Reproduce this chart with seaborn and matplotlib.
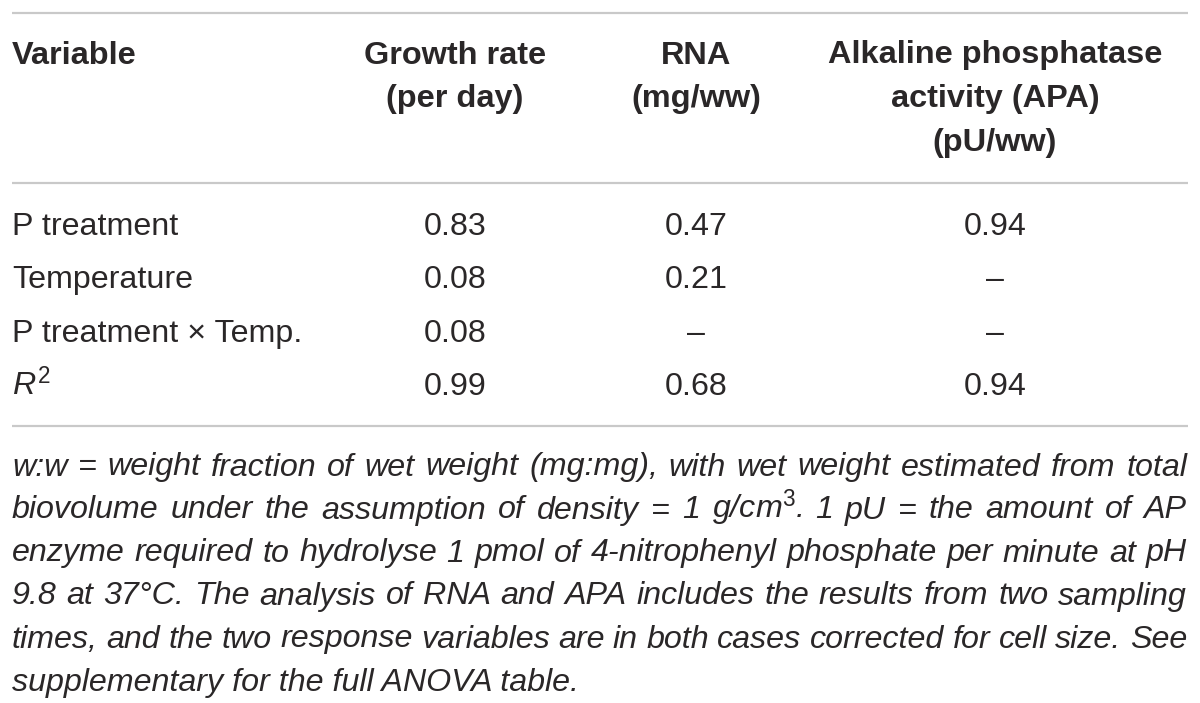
import matplotlib
matplotlib.use("Agg")
import matplotlib.pyplot as plt
import seaborn as sns

# ---- data ----
header_variable = "Variable"
columns = ["Growth rate\n(per day)", "RNA\n(mg/ww)", "Alkaline phosphatase\nactivity (APA)\n(pU/ww)"]
row_labels = ["P treatment", "Temperature", "P treatment \u00d7 Temp.", "$R^2$"]
growth_rate = ["0.83", "0.08", "0.08", "0.99"]
rna = ["0.47", "0.21", "\u2013", "0.68"]
apa = ["0.94", "\u2013", "\u2013", "0.94"]
footnote_lines = [
    "w:w = weight fraction of wet weight (mg:mg), with wet weight estimated from total",
    "biovolume under the assumption of density = 1 g/cm$^{3}$. 1 pU = the amount of AP",
    "enzyme required to hydrolyse 1 pmol of 4-nitrophenyl phosphate per minute at pH",
    "9.8 at 37\u00b0C. The analysis of RNA and APA includes the results from two sampling",
    "times, and the two response variables are in both cases corrected for cell size. See",
    "supplementary for the full ANOVA table.",
]

sns.set_theme(style="white")
plt.rcParams['font.family'] = ['Liberation Sans', 'DejaVu Sans']
plt.rcParams['mathtext.fontset'] = 'custom'
plt.rcParams['mathtext.rm'] = 'Liberation Sans'
plt.rcParams['mathtext.it'] = 'Liberation Sans:italic'
plt.rcParams['mathtext.bf'] = 'Liberation Sans:bold'

W, H = 1200, 703
fig = plt.figure(figsize=(12, 7.03), dpi=100)
ax = fig.add_axes([0, 0, 1, 1])
ax.set_xlim(0, W)
ax.set_ylim(H, 0)
ax.axis("off")

txt = "#2a2728"
line_c = "#c9c9c9"
fs_hdr = 23.4
fs = 23.2
left, right = 12, 1187

# rules
for y in (12.5, 183, 426):
    ax.plot([left, 1188], [y, y], color=line_c, lw=1.6, solid_capstyle="butt")

# header
col_x = [455, 696, 995]
hdr_base, hdr_dy = 63.5, 44
ax.text(left, hdr_base, header_variable, fontsize=fs_hdr, fontweight="bold", color=txt,
        ha="left", va="baseline")
for cx, label in zip(col_x, columns):
    for i, part in enumerate(label.split("\n")):
        ax.text(cx, hdr_base + i * hdr_dy, part, fontsize=fs_hdr, fontweight="bold",
                color=txt, ha="center", va="baseline")

# body
row_base = [235, 288.3, 341.6, 395]
for ry, lab, g, r, a in zip(row_base, row_labels, growth_rate, rna, apa):
    ax.text(left, ry, lab, fontsize=fs, color=txt, ha="left", va="baseline")
    for cx, v in zip(col_x, (g, r, a)):
        ax.text(cx, ry, v, fontsize=fs, color=txt, ha="center", va="baseline")

# footnote (justified, last line ragged)
fn_base, fn_dy = 475.5, 43
fig.canvas.draw()
renderer = fig.canvas.get_renderer()
for i, line in enumerate(footnote_lines):
    y = fn_base + i * fn_dy
    if i == len(footnote_lines) - 1:
        ax.text(left, y, line, fontsize=fs, style="italic", color=txt,
                ha="left", va="baseline")
        continue
    words = line.split(" ")
    arts = [ax.text(0, y, w, fontsize=fs, style="italic", color=txt,
                    ha="left", va="baseline") for w in words]
    widths = [a.get_window_extent(renderer).width for a in arts]
    gap = (right - left - sum(widths)) / (len(words) - 1)
    x = left
    for a, w in zip(arts, widths):
        a.set_x(x)
        x += w + gap

fig.savefig("out.png", dpi=100, facecolor="white")
